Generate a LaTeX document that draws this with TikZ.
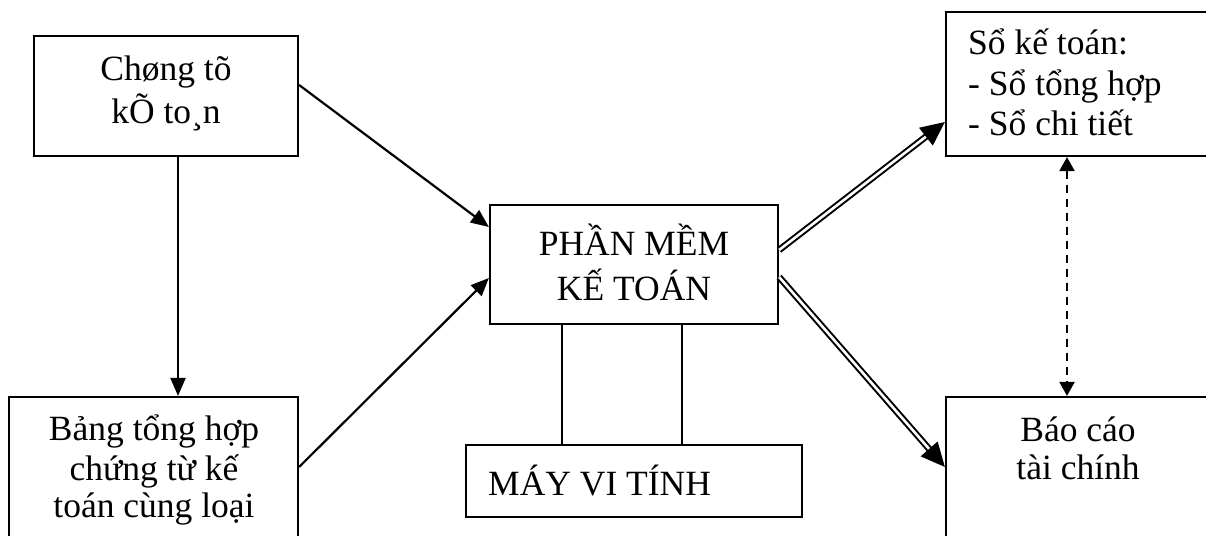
\documentclass[tikz,border=0pt]{standalone}
\usepackage{fontspec}
\setmainfont{Liberation Serif}
\usetikzlibrary{arrows.meta}
\begin{document}
\begin{tikzpicture}[x=1pt,y=-1pt,
  box/.style={draw=black,line width=2.2pt,rectangle,inner sep=0pt},
  txt/.style={font=\fontsize{35.5}{42}\selectfont,inner sep=0pt,anchor=base},
  txtl/.style={font=\fontsize{35.5}{42}\selectfont,inner sep=0pt,anchor=base west},
  arr/.style={line width=2.2pt,-{Triangle[length=18pt,width=15pt]}},
  dblarr/.style={line width=2pt,double,double distance=2.6pt,-{Triangle[length=24pt,width=22pt]}},
  dasharr/.style={line width=2.2pt,dash pattern=on 8pt off 6pt,{Triangle[length=14pt,width=15pt]}-{Triangle[length=14pt,width=15pt]}}]
\clip (0,0) rectangle (1206,535);
\fill[white] (0,0) rectangle (1206,535);
% boxes
\node[box,minimum width=264pt,minimum height=120pt] (A) at (166,96) {};
\node[box,minimum width=289pt,minimum height=240pt] (B) at (153.5,517) {};
\node[box,minimum width=288pt,minimum height=119pt] (C) at (634,264.5) {};
\node[box,minimum width=336pt,minimum height=72pt] (D) at (634,481) {};
\node[box,minimum width=300pt,minimum height=144pt] (E) at (1096,84) {};
\node[box,minimum width=300pt,minimum height=240pt] (F) at (1096,517) {};
% texts
\node[txt] (A1) at (166,80) {Chøng tõ};
\node[txt] (A2) at (166,123) {kÕ to¸n};
\node[txt] (B1) at (154,440) {Bảng tổng hợp};
\node[txt] (B2) at (154,480) {chứng từ kế};
\node[txt] (B3) at (154,517) {toán cùng loại};
\node[txt] (C1) at (634,255) {PHẦN MỀM};
\node[txt] (C2) at (634,300) {KẾ TOÁN};
\node[txtl] (D1) at (488,495) {MÁY VI TÍNH};
\node[txtl] (E1) at (968,55) {Sổ kế toán:};
\node[txtl] (E2) at (968,95) {- Sổ tổng hợp};
\node[txtl] (E3) at (968,135) {- Sổ chi tiết};
\node[txt] (F1) at (1078,441) {Báo cáo};
\node[txt] (F2) at (1078,479) {tài chính};
% connector end points
\coordinate (a1) at ([xshift=12pt]A.south);
\coordinate (c1) at ([xshift=-72pt]C.south);
\coordinate (c2) at ([xshift=48pt]C.south);
\coordinate (e1) at ([xshift=-29pt]E.south);
% connectors
\draw[arr] (a1) -- (B.north -| a1);
\draw[arr] ([yshift=11pt]A.east) -- ([yshift=37.5pt]C.west);
\draw[arr] ([yshift=50pt]B.east) -- ([yshift=-13.5pt]C.west);
\draw[dblarr] ([yshift=14.5pt]C.east) -- ([yshift=-38pt]E.west);
\draw[dblarr] ([yshift=-12.5pt]C.east) -- ([yshift=50pt]F.west);
\draw[line width=2.2pt] (c1) -- (D.north -| c1);
\draw[line width=2.2pt] (c2) -- (D.north -| c2);
\draw[dasharr] (e1) -- (F.north -| e1);
\end{tikzpicture}
\end{document}
